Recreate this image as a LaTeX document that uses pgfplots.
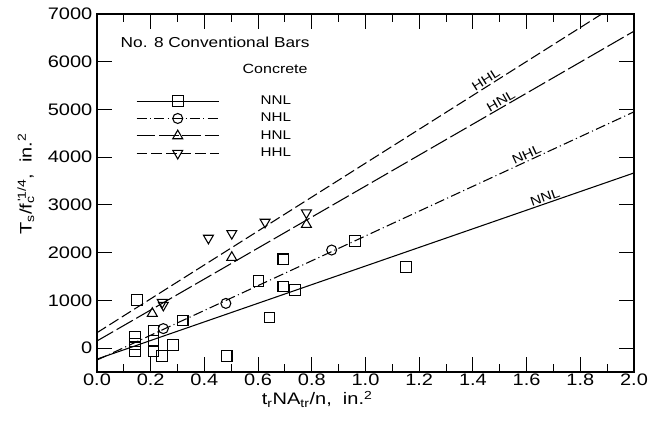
\documentclass[border=0pt]{standalone}
\usepackage{fontspec}
\setmainfont[FakeStretch=1.2]{Liberation Sans}
\usepackage{pgfplots}
\pgfplotsset{compat=1.18}

\begin{document}
\begin{tikzpicture}
\begin{axis}[
    scale only axis,
    width=402.75pt, height=268.5pt,
    xmin=0, xmax=2, ymin=-500, ymax=7000,
    xtick={0,0.2,0.4,0.6,0.8,1.0,1.2,1.4,1.6,1.8,2.0},
    xticklabels={0.0,0.2,0.4,0.6,0.8,1.0,1.2,1.4,1.6,1.8,2.0},
    minor x tick num=1,
    ytick={0,1000,2000,3000,4000,5000,6000,7000},
    yticklabels={0,1000,2000,3000,4000,5000,6000,7000},
    xticklabel style={inner sep=1pt},
    ticklabel style={font=\fontsize{12.5}{15}\selectfont},
    tick align=inside,
    major tick length=11.5pt, minor tick length=6pt,
    tick style={black, line width=0.8pt},
    axis line style={line width=0.9pt},
    xlabel={t\textsubscript{r}NA\textsubscript{tr}/n,\ \ in.\textsuperscript{2}},
    xlabel style={at={(axis description cs:0.41,-0.092)}, anchor=base, font=\fontsize{12.5}{15}\selectfont},
    ylabel={T\textsubscript{s}/f\rlap{\textsubscript{c}}\textsuperscript{\,\textquotesingle1/4},\ \ in.\textsuperscript{2}},
    ylabel style={at={(axis description cs:-0.1216,0.525)}, anchor=base, rotate=0, font=\fontsize{12.5}{15}\selectfont},
    legend style={draw=none, fill=none, at={(axis cs:0.145,5349)}, anchor=north west,
        inner sep=0pt, row sep=1pt, font=\fontsize{9.5}{11}\selectfont,
        /tikz/every odd column/.append style={column sep=29pt}},
    legend cell align=left,
    legend image code/.code={\draw[mark repeat=2, mark phase=2, #1] plot coordinates {(0pt,0pt) (30.75pt,0pt) (61.5pt,0pt)};},
]
\coordinate (SW) at (rel axis cs:0,0);
\coordinate (NE) at (rel axis cs:1,1);

% legend samples
\addlegendimage{black, line width=0.8pt, mark=square, mark size=4pt, mark options={solid}}
\addlegendentry{NNL}
\addlegendimage{black, line width=0.8pt, dash pattern=on 7.5pt off 2.5pt on 0.8pt off 2.5pt, mark=o, mark size=3.75pt, mark options={solid}}
\addlegendentry{NHL}
\addlegendimage{black, line width=0.8pt, dash pattern=on 14pt off 3pt, mark=triangle, mark size=4.3pt, mark options={solid}}
\addlegendentry{HNL}
\addlegendimage{black, line width=0.8pt, dash pattern=on 8pt off 3pt, mark=triangle, mark size=4.3pt, mark options={solid, rotate=180}}
\addlegendentry{HHL}

% fitted lines
\addplot[forget plot, black, line width=0.8pt] coordinates {(0,-230) (2,3670)}
    node[pos=0.838, sloped, above, inner sep=1pt, font=\fontsize{9.5}{11}\selectfont] {NNL};
\addplot[forget plot, black, line width=0.8pt, dash pattern=on 7.5pt off 2.5pt on 0.8pt off 2.5pt] coordinates {(0,-250) (2,4950)}
    node[pos=0.805, sloped, above, inner sep=1pt, font=\fontsize{9.5}{11}\selectfont] {NHL};
\addplot[forget plot, black, line width=0.8pt, dash pattern=on 14pt off 3pt] coordinates {(0,150) (2,6640)}
    node[pos=0.758, sloped, above, inner sep=1pt, font=\fontsize{9.5}{11}\selectfont] {HNL};
\addplot[forget plot, black, line width=0.8pt, dash pattern=on 8pt off 3pt] coordinates {(0,323) (1.88,7000)}
    node[pos=0.777, sloped, above, inner sep=1pt, font=\fontsize{9.5}{11}\selectfont] {HHL};

% test data
\addplot[forget plot, only marks, mark=square, mark size=4pt, mark options={solid, line width=0.8pt}] coordinates {
    (0.141,240) (0.141,90) (0.141,-70) (0.150,1010) (0.21,370) (0.21,150) (0.21,-55)
    (0.241,-169) (0.283,63) (0.319,580) (0.483,-160) (0.601,1410) (0.642,641)
    (0.694,1860) (0.694,1290) (0.737,1220) (0.961,2248) (1.151,1698)};
\addplot[forget plot, only marks, mark=o, mark size=3.75pt, mark options={solid, line width=0.8pt}] coordinates {
    (0.247,409) (0.480,937) (0.874,2055)};
\addplot[forget plot, only marks, mark=triangle, mark size=4.3pt, mark options={solid, line width=0.8pt}] coordinates {
    (0.206,726) (0.502,1900) (0.780,2590)};
\addplot[forget plot, only marks, mark=triangle, mark size=4.3pt, mark options={solid, line width=0.8pt, rotate=180}] coordinates {
    (0.243,960) (0.247,900) (0.415,2305) (0.502,2403) (0.626,2640) (0.780,2835)};

\node[anchor=base west, font=\fontsize{10.8}{13}\selectfont] at (axis cs:0.0708,6300) {No. 8 Conventional Bars};
\node[anchor=base west, font=\fontsize{10}{12}\selectfont] at (axis cs:0.525,5750) {Concrete};
\end{axis}
\pgfresetboundingbox
\path[use as bounding box] ([shift={(-72.75pt,-36.75pt)}]SW) rectangle ([shift={(17.25pt,10.5pt)}]NE);
\end{tikzpicture}
\end{document}
